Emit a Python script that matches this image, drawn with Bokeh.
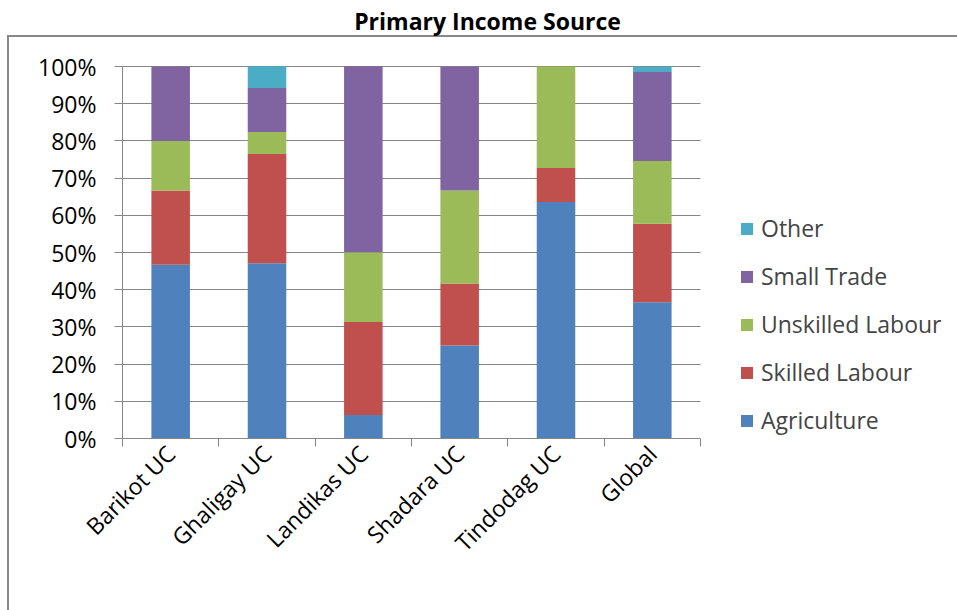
from bokeh.plotting import figure
from bokeh.models import (FixedTicker, PrintfTickFormatter, Legend, LegendItem,
                          Range1d, Label)
from bokeh.embed import file_html
from bokeh.resources import INLINE
import math

# ---- data (percent of households) ----
categories = ["Barikot UC", "Ghaligay UC", "Landikas UC", "Shadara UC", "Tindodag UC", "Global"]
agriculture = [46.7, 47.1, 6.3, 25.0, 63.6, 36.6]
skilled_labour = [20.0, 29.4, 25.0, 16.7, 9.1, 21.1]
unskilled_labour = [13.3, 5.9, 18.8, 25.0, 27.3, 16.9]
small_trade = [20.0, 11.8, 50.0, 33.3, 0.0, 23.9]
other = [0.0, 5.9, 0.0, 0.0, 0.0, 1.4]
series_names = ["Agriculture", "Skilled Labour", "Unskilled Labour", "Small Trade", "Other"]
y_ticks = [0, 10, 20, 30, 40, 50, 60, 70, 80, 90, 100]

colors = ["#4F81BD", "#C0504D", "#9BBB59", "#8064A2", "#4BACC6"]
FONT = "Open Sans"
GRAY = "#868686"
LABEL_SIZE = "23px"

n = len(categories)
xs = list(range(n))
data = dict(x=xs, Agriculture=agriculture, **{"Skilled Labour": skilled_labour,
            "Unskilled Labour": unskilled_labour, "Small Trade": small_trade, "Other": other})

# layout geometry (pixels): plot area 122..700 x 66..438, frame extended to the right/top
W, H = 957, 610
LEFT, BOTTOM = 122, 172
PLOT_W, PLOT_H = 578, 372
frame_w = W - LEFT
frame_h = H - BOTTOM
x_end = -0.5 + n * frame_w / PLOT_W
y_end = 100.0 * frame_h / PLOT_H

p = figure(width=W, height=H, output_backend="svg", toolbar_location=None,
           x_range=Range1d(-0.5, x_end), y_range=Range1d(0, y_end),
           min_border_left=LEFT, min_border_right=0, min_border_top=0, min_border_bottom=BOTTOM)
p.styles = {"background": "linear-gradient(#888888,#888888) 7px 35px/2px 700px no-repeat, "
                          "linear-gradient(#888888,#888888) 7px 35px/1200px 2px no-repeat, #ffffff"}
p.border_fill_color = None
p.background_fill_color = None
p.outline_line_color = None

renderers = p.vbar_stack(series_names, x="x", width=0.4, color=colors, line_color=None, source=data)

# title (placed in data space above the 100% line)
px_per_x = PLOT_W / n
px_per_y = PLOT_H / 100.0
title = Label(x=-0.5 + (487 - LEFT) / px_per_x, y=(H - BOTTOM - 20) / px_per_y,
              text="Primary Income Source", text_font=FONT, text_font_size="23px",
              text_font_style="bold", text_align="center", text_baseline="middle",
              text_color="#000000")
p.add_layout(title)

# y axis
ya = p.yaxis[0]
ya.bounds = (0, 100)
ya.ticker = FixedTicker(ticks=y_ticks, minor_ticks=[])
ya.formatter = PrintfTickFormatter(format="%d%%")
ya.axis_line_color = GRAY
ya.major_tick_line_color = GRAY
ya.major_tick_in = 0
ya.major_tick_out = 8
ya.minor_tick_line_color = None
ya.major_label_text_font = FONT
ya.major_label_text_font_size = LABEL_SIZE
ya.major_label_text_color = "#000000"
ya.major_label_standoff = 18

# x axis
xa = p.xaxis[0]
xa.bounds = (-0.5, n - 0.5)
xa.ticker = FixedTicker(ticks=xs, minor_ticks=[i - 0.5 for i in range(n + 1)])
xa.major_label_overrides = {i: c for i, c in zip(xs, categories)}
xa.axis_line_color = GRAY
xa.major_tick_line_color = None
xa.major_tick_in = 0
xa.major_tick_out = 0
xa.minor_tick_line_color = GRAY
xa.minor_tick_in = 0
xa.minor_tick_out = 8
xa.major_label_orientation = math.pi / 4
xa.major_label_text_font = FONT
xa.major_label_text_font_size = LABEL_SIZE
xa.major_label_text_color = "#000000"
xa.major_label_standoff = 3

p.xgrid.grid_line_color = None
p.ygrid.grid_line_color = GRAY
p.ygrid.grid_line_width = 1
p.ygrid.bounds = (0, 100)
p.ygrid.cross_bounds = (-0.5, n - 0.5)

items = [LegendItem(label=name, renderers=[r]) for name, r in zip(series_names, renderers)][::-1]
legend = Legend(items=items, location=(617, 2))
legend.label_text_font = FONT
legend.label_text_font_size = LABEL_SIZE
legend.glyph_width = 15
legend.glyph_height = 15
legend.label_standoff = 7
legend.spacing = 16
legend.padding = 0
legend.margin = 0
legend.border_line_color = None
legend.background_fill_color = None
p.add_layout(legend, "center")

open("out.html", "w").write(file_html(p, INLINE))
